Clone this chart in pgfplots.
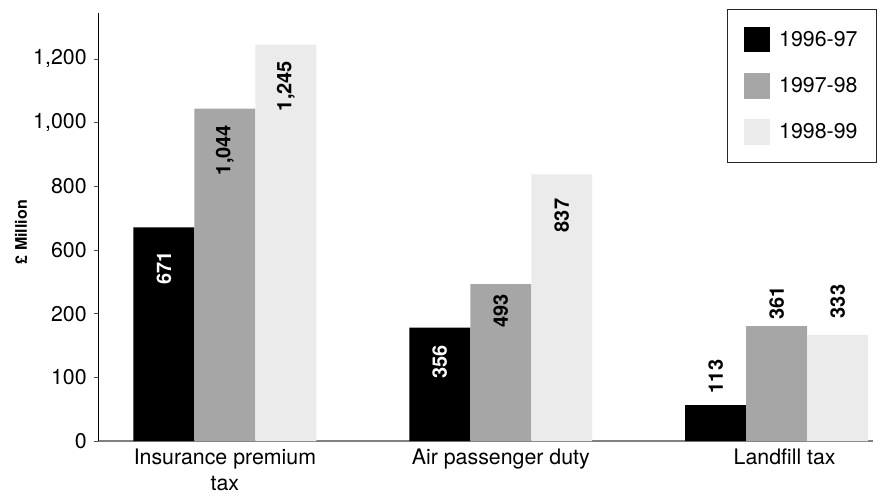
\documentclass[border=0pt]{standalone}
\usepackage{fontspec}
\setmainfont{TeX Gyre Heros}
\usepackage{pgfplots}
\pgfplotsset{compat=1.18}
\usepackage{pgfplotstable}

\definecolor{barA}{HTML}{000000}
\definecolor{barB}{HTML}{A6A6A6}
\definecolor{barC}{HTML}{EBEBEB}
\definecolor{axisgray}{HTML}{808080}

% x: category index, y: value, lab: printed label,
% off: vertical offset of the label centre from the bar top (pt),
% w: 1 for a white label, 0 for a black one
\pgfplotstableread{
x y lab off w
0 671 671 -30.75 1
1 356 356 -25.5 1
2 113 113 21.4 0
}\dataA
\pgfplotstableread{
x y lab off w
0 1044 1,044 -31.1 0
1 493 493 -20.25 0
2 361 361 17.25 0
}\dataB
\pgfplotstableread{
x y lab off w
0 1245 1,245 -31.1 0
1 837 837 -30.75 0
2 333 333 25.1 0
}\dataC

\pgfplotsset{
  valuelabels/.style={
    point meta=explicit symbolic,
    visualization depends on={\thisrow{w} \as \wv},
    visualization depends on={\thisrow{off} \as \off},
    nodes near coords={\ifdim\wv pt>0.5pt\color{white}\else\color{black}\fi\pgfplotspointmeta},
    every node near coord/.append style={yshift=\off pt, rotate=90, anchor=center,
      inner sep=0pt, font=\fontsize{15}{18}\selectfont\bfseries},
  },
}

\begin{document}
\begin{tikzpicture}
\useasboundingbox (-73.5pt,-43.5pt) rectangle (586.5pt,330.75pt);
\begin{axis}[
  at={(0,0)}, anchor=south west,
  scale only axis,
  width=581pt, height=321pt,
  ybar=0pt, bar width=0.221,
  xmin=-0.46, xmax=2.348,
  ymin=0, ymax=1344,
  axis x line*=bottom, axis y line*=left,
  x axis line style={draw=axisgray, line width=0.8pt},
  y axis line style={draw=black, line width=0.6pt},
  xtick={0,1,2},
  xticklabels={{Insurance premium\\tax},{Air passenger duty},{\hspace*{12pt}Landfill tax}},
  xtick style={draw=none},
  xticklabel style={align=center, font=\fontsize{16}{20}\selectfont,
    anchor=north, yshift=-2.5pt, inner sep=0pt},
  ytick={0,200,400,600,800,1000,1200},
  yticklabels={0,100,200,600,800,{1,000},{1,200}},
  ytick style={draw=black!70, line width=0.5pt},
  tick align=outside, major tick length=3pt,
  yticklabel style={font=\fontsize{16}{19}\selectfont, xshift=-2pt},
  ylabel={£ Million},
  every axis y label/.style={at={(axis description cs:-0.0994,0.488)},
    rotate=90, anchor=center, font=\fontsize{12}{14}\selectfont\bfseries},
  legend style={at={(1.005,1.0093)}, anchor=north east, draw=black!85,
    line width=0.6pt, font=\fontsize{16}{19}\selectfont,
    row sep=15.5pt, inner xsep=12pt, inner ysep=13pt,
    /tikz/every odd column/.append style={column sep=5pt},
    /tikz/every even column/.append style={column sep=9pt}},
  legend cell align=left,
  legend image code/.code={\fill[#1,draw=none] (0pt,-9.6pt) rectangle (19.5pt,9.6pt);},
  clip=false,
]
\addplot[fill=barA, draw=none, valuelabels] table[x=x, y=y, meta=lab] {\dataA};
\addplot[fill=barB, draw=none, valuelabels] table[x=x, y=y, meta=lab] {\dataB};
\addplot[fill=barC, draw=none, valuelabels] table[x=x, y=y, meta=lab] {\dataC};
\legend{1996-97,1997-98,1998-99}
\end{axis}
\end{tikzpicture}
\end{document}
